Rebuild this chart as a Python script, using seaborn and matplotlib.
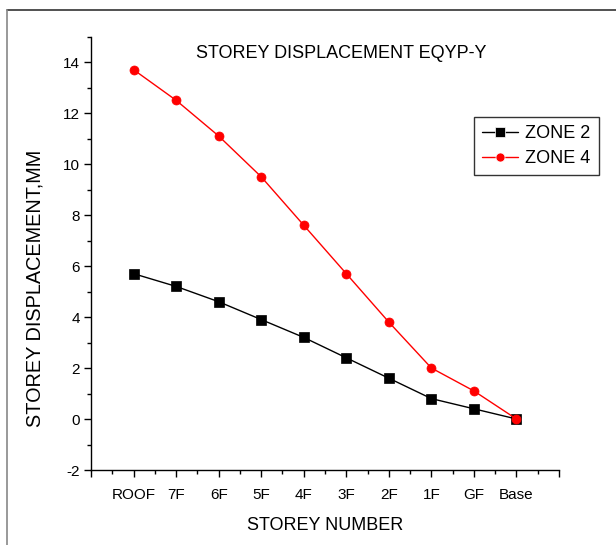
import matplotlib
matplotlib.use("Agg")
import matplotlib.pyplot as plt
from matplotlib.lines import Line2D
from matplotlib.ticker import FixedLocator
import seaborn as sns
import pandas as pd

# Storey levels from top to bottom
storeys = ["ROOF", "7F", "6F", "5F", "4F", "3F", "2F", "1F", "GF", "Base"]
# Storey displacement (mm) for each seismic zone
zone2 = [5.7, 5.2, 4.6, 3.9, 3.2, 2.4, 1.6, 0.8, 0.4, 0.0]
zone4 = [13.7, 12.5, 11.1, 9.5, 7.6, 5.7, 3.8, 2.0, 1.1, 0.0]
zones = ["ZONE 2", "ZONE 4"]

df = pd.DataFrame({
    "storey": storeys * 2,
    "disp": zone2 + zone4,
    "zone": [zones[0]] * len(storeys) + [zones[1]] * len(storeys),
})

sns.set_style("white")
plt.rcParams["font.family"] = ["Liberation Sans", "DejaVu Sans"]
plt.rcParams["text.color"] = "black"
plt.rcParams["axes.labelcolor"] = "black"
plt.rcParams["xtick.color"] = "black"
plt.rcParams["ytick.color"] = "black"
plt.rcParams["axes.unicode_minus"] = False

fig = plt.figure(figsize=(6.16, 5.45), dpi=100)
ax = fig.add_axes([0.1477, 0.1376, 0.9075 - 0.1477, 0.933 - 0.1376])

sns.lineplot(
    data=df, x="storey", y="disp", hue="zone", style="zone",
    palette={"ZONE 2": "black", "ZONE 4": "red"},
    markers={"ZONE 2": "s", "ZONE 4": "o"}, dashes=False,
    markersize=6.5, markeredgewidth=0.5, linewidth=1.0, sort=False, ax=ax,
)
for ln, col in zip(ax.lines, ["black", "red"]):
    ln.set_markeredgecolor(col)

ax.set_xlim(-1, 10)
ax.set_ylim(-2, 15)
ax.xaxis.set_major_locator(FixedLocator(list(range(-1, 11))))
ax.set_xticklabels([""] + storeys + [""])
ax.xaxis.set_minor_locator(FixedLocator([i + 0.5 for i in range(-1, 10)]))
ax.yaxis.set_major_locator(FixedLocator(list(range(-2, 15, 2))))
ax.yaxis.set_minor_locator(FixedLocator(list(range(-1, 16, 2))))
ax.tick_params(which="major", direction="out", length=5, width=1, color="black",
               labelsize=11, bottom=True, left=True, pad=3)
ax.tick_params(axis="x", which="major", pad=8)
ax.tick_params(which="minor", direction="out", length=3, width=1, color="black",
               bottom=True, left=True)

for side in ["top", "right"]:
    ax.spines[side].set_visible(False)
for side in ["left", "bottom"]:
    ax.spines[side].set_color("black")
    ax.spines[side].set_linewidth(1)

ax.set_xlabel("STOREY NUMBER", fontsize=13, labelpad=11)
ax.set_ylabel("STOREY DISPLACEMENT,MM", fontsize=14.3)
ax.yaxis.set_label_coords(-0.10, 0.42)
ax.text(0.535, 0.98, "STOREY DISPLACEMENT EQYP-Y", transform=ax.transAxes,
        ha="center", va="top", fontsize=13)

handles, labels = ax.get_legend_handles_labels()
leg = ax.legend(handles, labels, loc="upper left", bbox_to_anchor=(0.818, 0.815),
                frameon=True, fancybox=False, fontsize=13, handlelength=2.0,
                handletextpad=0.4, borderpad=0.45, labelspacing=0.45, borderaxespad=0)
leg.get_frame().set_edgecolor("black")
leg.get_frame().set_linewidth(1)

# Outer border around the figure panel
fig.add_artist(Line2D([7 / 616, 1.0], [1 - 10 / 545, 1 - 10 / 545], transform=fig.transFigure,
                      color="#333333", linewidth=1.2))
fig.add_artist(Line2D([7 / 616, 7 / 616], [0.0, 1 - 10 / 545], transform=fig.transFigure,
                      color="#888888", linewidth=1.2))

fig.savefig("out.png", dpi=100)
